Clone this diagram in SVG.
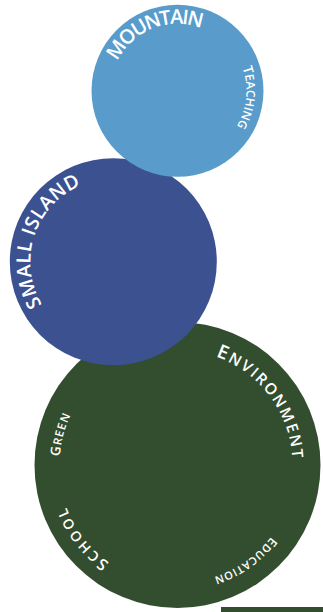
<svg xmlns="http://www.w3.org/2000/svg" xmlns:xlink="http://www.w3.org/1999/xlink" width="323" height="612" viewBox="0 0 323 612">
  <style>
    .lbl { fill: #ffffff; font-family: "Open Sans", "Noto Sans", "DejaVu Sans", sans-serif; font-weight: 600; }
  </style>
  <defs>
    <path id="p-mountain" d="M111.85,104.16 A67,67 0 0 1 234.63,55.79"/>
    <path id="p-teaching" d="M196.17,24.37 A69,69 0 0 1 182.67,159.61"/>
    <path id="p-island" d="M74.33,334.98 A83,83 0 0 1 124.85,179.51"/>
    <path id="p-env" d="M125.29,362.53 A115,115 0 0 1 261.61,543.43"/>
    <path id="p-green" d="M128.57,572.38 A118,118 0 0 1 186.76,347.36"/>
    <path id="p-school" d="M233.37,570.07 A119,119 0 0 1 89.07,385.37"/>
    <path id="p-edu" d="M284.18,414.57 A118,118 0 0 1 94.5,548.87"/>
  </defs>

  <g id="environment">
    <circle cx="177.5" cy="465" r="143" fill="#334e2f"/>
    <rect x="221" y="607" width="102" height="5" fill="#334e2f"/>
    <text class="lbl" text-anchor="middle"><textPath href="#p-env" xlink:href="#p-env" startOffset="50%" textLength="135"><tspan font-size="19">E</tspan><tspan font-size="15.5">NVIRONMENT</tspan></textPath></text>
    <text class="lbl" text-anchor="middle"><textPath href="#p-green" xlink:href="#p-green" startOffset="50%" textLength="43"><tspan font-size="13.5">G</tspan><tspan font-size="11.5">REEN</tspan></textPath></text>
    <text class="lbl" text-anchor="middle"><textPath href="#p-school" xlink:href="#p-school" startOffset="50%" textLength="71"><tspan font-size="16">S</tspan><tspan font-size="14">CHOOL</tspan></textPath></text>
    <text class="lbl" text-anchor="middle"><textPath href="#p-edu" xlink:href="#p-edu" startOffset="50%" textLength="71"><tspan font-size="12.5">E</tspan><tspan font-size="11">DUCATION</tspan></textPath></text>
  </g>

  <g id="small-island">
    <circle cx="113.3" cy="261.7" r="103.5" fill="#3c5190"/>
    <text class="lbl" text-anchor="middle" font-size="19.5"><textPath href="#p-island" xlink:href="#p-island" startOffset="50%" textLength="142">SMALL ISLAND</textPath></text>
  </g>

  <g id="mountain">
    <circle cx="177.5" cy="90.8" r="86" fill="#599ccb"/>
    <text class="lbl" text-anchor="middle" font-size="20"><textPath href="#p-mountain" xlink:href="#p-mountain" startOffset="50%" textLength="99">MOUNTAIN</textPath></text>
    <text class="lbl" text-anchor="middle"><textPath href="#p-teaching" xlink:href="#p-teaching" startOffset="50%" textLength="61"><tspan font-size="13.5">T</tspan><tspan font-size="12">EACHING</tspan></textPath></text>
  </g>

  <g id="connectors"></g>
</svg>
